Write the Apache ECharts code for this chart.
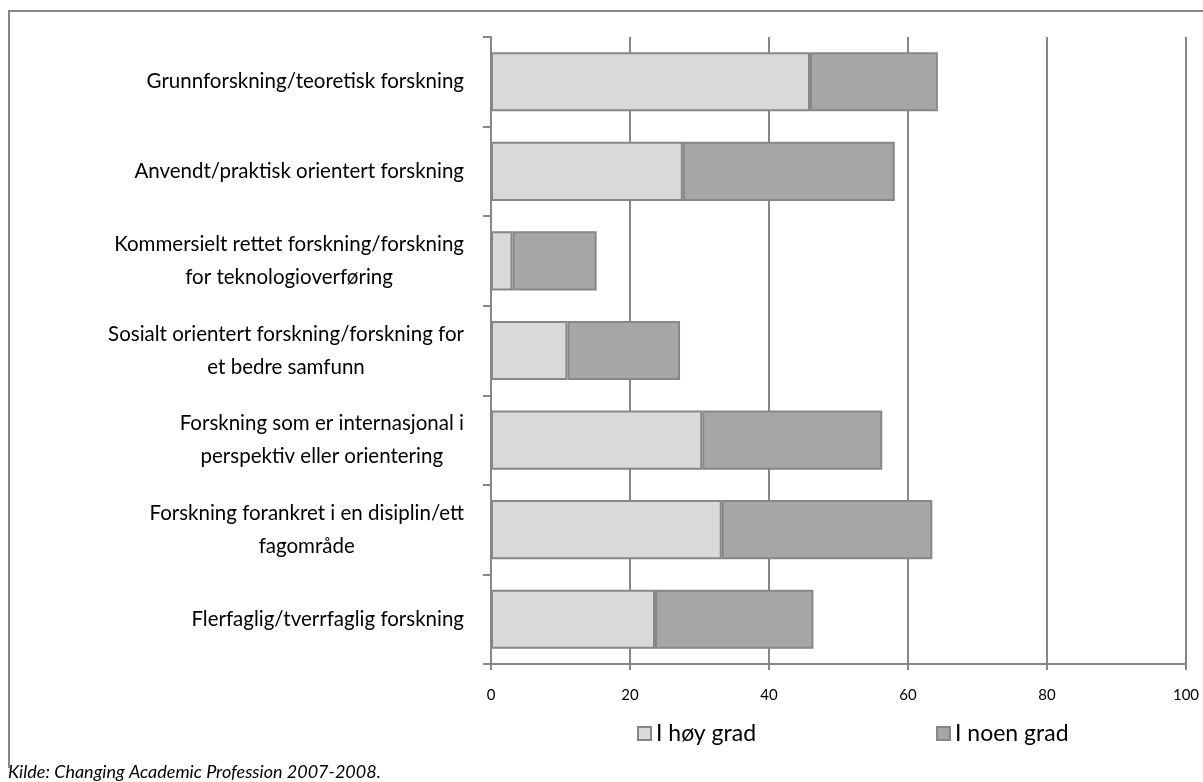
<!DOCTYPE html>
<html>
<head>
<meta charset="utf-8">
<script src="https://cdn.jsdelivr.net/npm/echarts@6/dist/echarts.min.js"></script>
<style>
html,body{margin:0;padding:0;background:#fff;}
#chart{width:1203px;height:782px;}
</style>
</head>
<body>
<div id="chart"></div>
<script>
const categories = [
  "Grunnforskning/teoretisk forskning",
  "Anvendt/praktisk orientert forskning",
  "Kommersielt rettet forskning/forskning\nfor teknologioverføring",
  "Sosialt orientert forskning/forskning for\net bedre samfunn",
  "Forskning som er internasjonal i\nperspektiv eller orientering",
  "Forskning forankret i en disiplin/ett\nfagområde",
  "Flerfaglig/tverrfaglig forskning"
];
const seriesNames = ["I høy grad", "I noen grad"];
const hoyGrad = [45.9, 27.6, 3.1, 11.0, 30.4, 33.2, 23.6];
const noenGrad = [18.4, 30.5, 12.1, 16.2, 25.9, 30.3, 22.8];
const xTicks = [0, 20, 40, 60, 80, 100];
const sourceText = "Kilde: Changing Academic Profession 2007-2008.";

const gray = '#878787';
const chart = echarts.init(document.getElementById('chart'), null, {renderer: 'canvas'});
chart.setOption({
  animation: false,
  backgroundColor: '#fff',
  textStyle: {fontFamily: 'Lato'},
  grid: {left: 491, right: 17, top: 37, bottom: 118, containLabel: false},
  legend: {
    data: seriesNames,
    left: 637,
    top: 722,
    padding: 0,
    itemWidth: 13,
    itemHeight: 13,
    itemGap: 180,
    icon: 'rect',
    textStyle: {fontFamily: 'Lato', fontSize: 23, color: '#000'}
  },
  xAxis: {
    type: 'value',
    min: xTicks[0],
    max: xTicks[xTicks.length - 1],
    interval: 20,
    axisLine: {show: true, lineStyle: {color: gray, width: 2}},
    axisTick: {show: true, length: 6, lineStyle: {color: gray, width: 2}},
    splitLine: {show: true, lineStyle: {color: gray, width: 2}},
    axisLabel: {fontFamily: 'Lato', fontSize: 15, color: '#000', margin: 24,
      formatter: v => xTicks.includes(v) ? String(v) : ''}
  },
  yAxis: {
    type: 'category',
    data: categories,
    inverse: true,
    axisLine: {show: true, lineStyle: {color: gray, width: 2}},
    axisTick: {show: true, length: 8, lineStyle: {color: gray, width: 2}},
    axisLabel: {
      margin: 27,
      align: 'right',
      formatter: v => v.split('\n').map(l => '{c|' + l + '}').join('\n'),
      rich: {c: {align: 'center', fontFamily: 'Lato', fontSize: 20.5, lineHeight: 33, color: '#000'}}
    }
  },
  series: [
    {
      name: seriesNames[0], type: 'bar', stack: 'tot', barWidth: '66%',
      data: hoyGrad,
      itemStyle: {color: '#d9d9d9', borderColor: gray, borderWidth: 2}
    },
    {
      name: seriesNames[1], type: 'bar', stack: 'tot', barWidth: '66%',
      data: noenGrad,
      itemStyle: {color: '#a6a6a6', borderColor: gray, borderWidth: 2}
    }
  ],
  graphic: [
    {type: 'line', shape: {x1: 8, y1: 11, x2: 1203, y2: 11}, style: {stroke: gray, lineWidth: 2}},
    {type: 'line', shape: {x1: 9, y1: 10, x2: 9, y2: 768}, style: {stroke: gray, lineWidth: 2}},
    {type: 'text', left: 8, top: 763, style: {text: sourceText, fontFamily: 'Lato', fontStyle: 'italic', fontSize: 18, fill: '#000'}}
  ]
});
</script>
</body>
</html>
